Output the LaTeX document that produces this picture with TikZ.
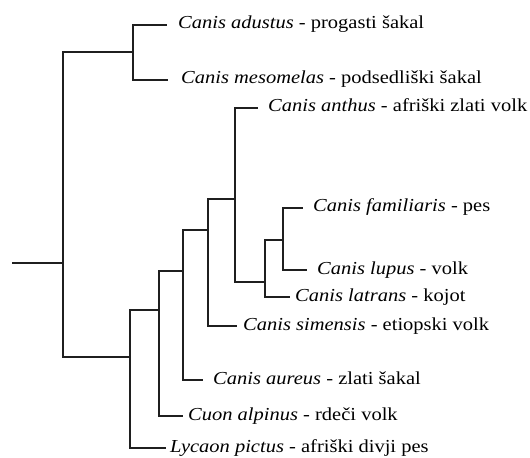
\documentclass[tikz,border=0pt]{standalone}
\usepackage{fontspec}
\setmainfont[FakeStretch=1.12]{Liberation Serif}
\begin{document}
\begin{tikzpicture}[x=1bp,y=-1bp,
  branch/.style={draw=black!88, line width=1.4bp},
  leaf/.style={anchor=west, inner ysep=0pt, inner xsep=#1,
    text height=12bp, text depth=4bp,
    font=\fontsize{18.3bp}{20bp}\selectfont, text=black},
  leaf/.default=10bp]
\useasboundingbox[fill=white] (0,0) rectangle (530,458);

% internal nodes: x of the vertical bar, y where the parent joins
\coordinate (stem) at (12,263);
\coordinate (root) at (63,263);
\coordinate (jack) at (133,52);
\coordinate (rest) at (130,357);
\coordinate (n1) at (159,310);
\coordinate (n2) at (183,271);
\coordinate (n3) at (208,230);
\coordinate (n4) at (235,199);
\coordinate (n5) at (265,282);
\coordinate (n6) at (283,240);

% leaves
\node[leaf=11bp] (adustus) at (167,25) {\textit{Canis adustus} - progasti šakal};
\node[leaf=13bp] (mesomelas) at (168,80) {\textit{Canis mesomelas} - podsedliški šakal};
\node[leaf=10bp] (anthus) at (258,108) {\textit{Canis anthus} - afriški zlati volk};
\node[leaf=10bp] (familiaris) at (303,208) {\textit{Canis familiaris} - pes};
\node[leaf=10bp] (lupus) at (307,270) {\textit{Canis lupus} - volk};
\node[leaf=5bp] (latrans) at (290,297) {\textit{Canis latrans} - kojot};
\node[leaf=6bp] (simensis) at (237,326) {\textit{Canis simensis} - etiopski volk};
\node[leaf=10bp] (aureus) at (203,380) {\textit{Canis aureus} - zlati šakal};
\node[leaf=5bp] (alpinus) at (183,416) {\textit{Cuon alpinus} - rdeči volk};
\node[leaf=4bp] (lycaon) at (166,448) {\textit{Lycaon pictus} - afriški divji pes};

% branches
\draw[branch] (stem) -- (root);
\draw[branch] (root) |- (jack);
\draw[branch] (root) |- (rest);
\draw[branch] (jack) |- (adustus.west);
\draw[branch] (jack) |- (mesomelas.west);
\draw[branch] (rest) |- (n1);
\draw[branch] (rest) |- (lycaon.west);
\draw[branch] (n1) |- (n2);
\draw[branch] (n1) |- (alpinus.west);
\draw[branch] (n2) |- (n3);
\draw[branch] (n2) |- (aureus.west);
\draw[branch] (n3) |- (n4);
\draw[branch] (n3) |- (simensis.west);
\draw[branch] (n4) |- (anthus.west);
\draw[branch] (n4) |- (n5);
\draw[branch] (n5) |- (n6);
\draw[branch] (n5) |- (latrans.west);
\draw[branch] (n6) |- (familiaris.west);
\draw[branch] (n6) |- (lupus.west);
\end{tikzpicture}
\end{document}
